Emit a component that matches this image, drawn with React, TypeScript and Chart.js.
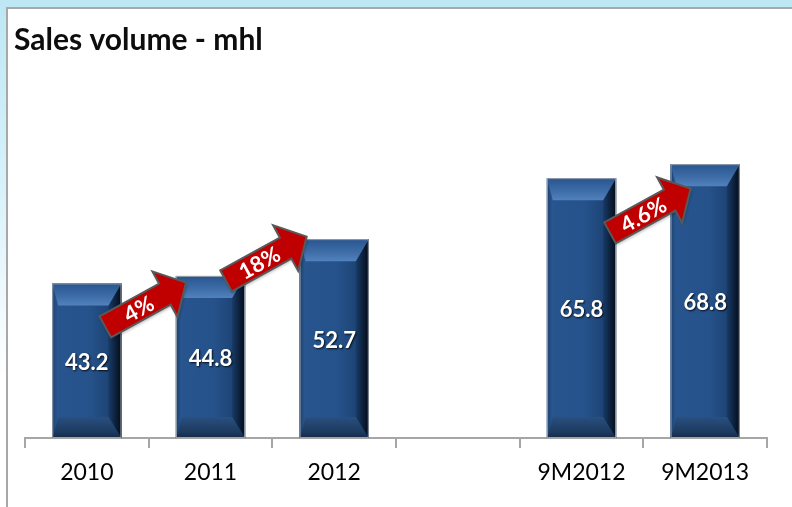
import React, { useEffect, useRef } from "react";
import { Chart, registerables } from "chart.js";

Chart.register(...registerables);

const categories = ["2010", "2011", "2012", "", "9M2012", "9M2013"];
const salesVolume: (number | null)[] = [43.2, 44.8, 52.7, null, 65.8, 68.8];
const valueLabels = ["43.2", "44.8", "52.7", "", "65.8", "68.8"];
const growthLabels = ["4%", "18%", "4.6%"];
const growthFrom = [0, 1, 4];
const growthTo = [1, 2, 5];
const titleText = "Sales volume - mhl";

const FONT = "Lato, 'Liberation Sans', sans-serif";

const arrowPlacement = [
  { dx: -3, value: 38.6 },
  { dx: -6, value: 48.5 },
  { dx: 7, value: 58.8 },
];

const titlePlugin = {
  id: "titleText",
  beforeDraw(chart: any) {
    const ctx = chart.ctx;
    ctx.save();
    ctx.font = `bold 30px ${FONT}`;
    ctx.fillStyle = "#0d0d0d";
    ctx.textAlign = "left";
    ctx.textBaseline = "alphabetic";
    ctx.fillText(titleText, 14, 50);
    ctx.restore();
  },
};

function poly(ctx: CanvasRenderingContext2D, pts: number[][], fill: any) {
  ctx.beginPath();
  ctx.moveTo(pts[0][0], pts[0][1]);
  for (let i = 1; i < pts.length; i++) ctx.lineTo(pts[i][0], pts[i][1]);
  ctx.closePath();
  ctx.fillStyle = fill;
  ctx.fill();
}

const bevelPlugin = {
  id: "bevelBars",
  afterDatasetsDraw(chart: any) {
    const ctx: CanvasRenderingContext2D = chart.ctx;
    const meta = chart.getDatasetMeta(0);
    meta.data.forEach((bar: any, i: number) => {
      if (salesVolume[i] == null) return;
      const { x, y, base, width } = bar.getProps(["x", "y", "base", "width"], true);
      const l = x - width / 2;
      const r = x + width / 2;
      const t = y;
      const b = base;
      const sl = 6;
      const sr = 13;
      const bt = 22;
      const bb = 21;
      ctx.save();
      const body = ctx.createLinearGradient(l, 0, r, 0);
      body.addColorStop(0, "#28558f");
      body.addColorStop(0.55, "#25528a");
      body.addColorStop(0.8, "#1e4577");
      body.addColorStop(1, "#0c1c36");
      ctx.fillStyle = body;
      ctx.fillRect(l, t, r - l, b - t);
      const lg = ctx.createLinearGradient(l, 0, l + sl, 0);
      lg.addColorStop(0, "#1d416f");
      lg.addColorStop(1, "#2a5892");
      poly(ctx, [[l, t], [l + sl, t + bt], [l + sl, b - bb], [l, b]], lg);
      const rg = ctx.createLinearGradient(r - sr, 0, r, 0);
      rg.addColorStop(0, "#183b68");
      rg.addColorStop(1, "#040b17");
      poly(ctx, [[r, t], [r, b], [r - sr, b - bb], [r - sr, t + bt]], rg);
      const tg = ctx.createLinearGradient(0, t, 0, t + bt);
      tg.addColorStop(0, "#29558f");
      tg.addColorStop(0.6, "#3e6da8");
      tg.addColorStop(1, "#5282bd");
      poly(ctx, [[l, t], [r, t], [r - sr, t + bt], [l + sl, t + bt]], tg);
      const bg = ctx.createLinearGradient(0, b - bb, 0, b);
      bg.addColorStop(0, "#29507f");
      bg.addColorStop(0.7, "#1d3a60");
      bg.addColorStop(1, "#152a49");
      poly(ctx, [[l, b], [l + sl, b - bb], [r - sr, b - bb], [r, b]], bg);
      ctx.strokeStyle = "#98a2ad";
      ctx.lineWidth = 1;
      ctx.strokeRect(l + 0.5, t + 0.5, r - l - 1, b - t - 1);
      ctx.font = `bold 22px ${FONT}`;
      ctx.textAlign = "center";
      ctx.textBaseline = "middle";
      ctx.shadowColor = "rgba(0,0,0,0.85)";
      ctx.shadowBlur = 2;
      ctx.shadowOffsetX = 1;
      ctx.shadowOffsetY = 1;
      ctx.fillStyle = "#ffffff";
      ctx.fillText(valueLabels[i], x, (t + b) / 2 + 2);
      ctx.restore();
    });
  },
};

const arrowPlugin = {
  id: "growthArrows",
  afterDatasetsDraw(chart: any) {
    const ctx: CanvasRenderingContext2D = chart.ctx;
    const xs = chart.scales.x;
    const ys = chart.scales.y;
    const angle = (-28.8 * Math.PI) / 180;
    growthLabels.forEach((label, k) => {
      const p = arrowPlacement[k];
      const cx = (xs.getPixelForValue(growthFrom[k]) + xs.getPixelForValue(growthTo[k])) / 2 + p.dx;
      const cy = ys.getPixelForValue(p.value);
      ctx.save();
      ctx.translate(cx, cy);
      ctx.rotate(angle);
      ctx.beginPath();
      ctx.moveTo(-46, -12);
      ctx.lineTo(22, -12);
      ctx.lineTo(22, -26);
      ctx.lineTo(46, 0);
      ctx.lineTo(22, 26);
      ctx.lineTo(22, 12);
      ctx.lineTo(-46, 12);
      ctx.closePath();
      ctx.shadowColor = "rgba(0,0,0,0.25)";
      ctx.shadowBlur = 3;
      ctx.shadowOffsetX = 1;
      ctx.shadowOffsetY = 2;
      ctx.fillStyle = "#c00000";
      ctx.fill();
      ctx.shadowColor = "transparent";
      ctx.strokeStyle = "#595959";
      ctx.lineWidth = 2;
      ctx.lineJoin = "miter";
      ctx.stroke();
      ctx.font = `bold 22px ${FONT}`;
      ctx.fillStyle = "#ffffff";
      ctx.textAlign = "center";
      ctx.textBaseline = "middle";
      ctx.fillText(label, -8, 1);
      ctx.restore();
    });
  },
};

export default function App() {
  const canvasRef = useRef<HTMLCanvasElement | null>(null);

  useEffect(() => {
    if (!canvasRef.current) return;
    const chart = new Chart(canvasRef.current, {
      type: "bar",
      data: {
        labels: categories,
        datasets: [
          {
            data: salesVolume as any,
            base: 10,
            backgroundColor: "#25528a",
            borderWidth: 0,
            barPercentage: 0.56,
            categoryPercentage: 1,
          } as any,
        ],
      },
      options: {
        responsive: false,
        animation: false,
        layout: { padding: { left: 25, right: 25, top: 112, bottom: 0 } },
        plugins: {
          legend: { display: false },
          tooltip: { enabled: false },
          title: { display: false },
        },
        scales: {
          x: {
            offset: true,
            grid: {
              offset: true,
              drawOnChartArea: false,
              drawTicks: true,
              tickLength: 10,
              color: "#a6a6a6",
              lineWidth: 2,
            },
            border: { display: true, color: "#a6a6a6", width: 2 },
            ticks: {
              color: "#000000",
              font: { family: FONT, size: 23 },
              padding: 11,
              maxRotation: 0,
              autoSkip: false,
            },
            afterFit(scale: any) {
              scale.height = 69;
            },
          },
          y: { display: false, min: 10, max: 80 },
        },
      },
      plugins: [titlePlugin, bevelPlugin, arrowPlugin],
    });
    return () => chart.destroy();
  }, []);

  return (
    <div
      style={{
        position: "fixed",
        left: 0,
        top: 0,
        width: 792,
        height: 507,
        overflow: "hidden",
        background: "linear-gradient(to bottom, #bde7f5 0%, #d6f1fa 35%, #ffffff 75%)",
      }}
    >
      <div
        style={{
          position: "absolute",
          left: 6,
          top: 7,
          right: -2,
          bottom: -2,
          background: "#ffffff",
          borderTop: "2px solid #a8a8a8",
          borderLeft: "2px solid #a8a8a8",
        }}
      />
      <canvas
        ref={canvasRef}
        width={792}
        height={507}
        style={{ position: "absolute", left: 0, top: 0 }}
      />
    </div>
  );
}
